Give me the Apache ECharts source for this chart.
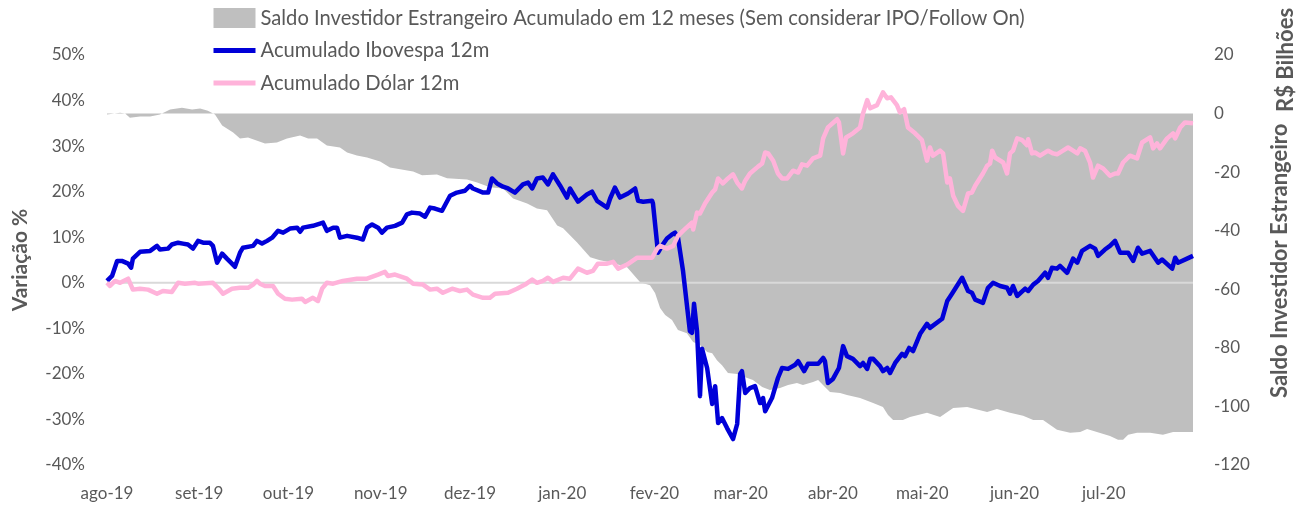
<!DOCTYPE html>
<html>
<head>
<meta charset="utf-8">
<script src="https://cdn.jsdelivr.net/npm/echarts@6/dist/echarts.min.js"></script>
<style>
html,body{margin:0;padding:0;background:#fff;}
#chart{width:1296px;height:506px;}
</style>
</head>
<body>
<div id="chart"></div>
<script>
// ---- data (day offsets counted from the start date) ----
const startDate = [2019, 7, 1]; // 1 Aug 2019
const totalDays = 365;
const monthLabels = ['jan','fev','mar','abr','mai','jun','jul','ago','set','out','nov','dez'];

const seriesNames = [
  'Saldo Investidor Estrangeiro Acumulado em 12 meses (Sem considerar IPO/Follow On)',
  'Acumulado Ibovespa 12m',
  'Acumulado Dólar 12m'
];
const leftTitle = 'Variação %';
const rightTitle = ['Saldo Investidor Estrangeiro', 'R$ Bilhões'];

// Saldo investidor estrangeiro (R$ bilhões)
const saldoDays = [0,4.4,6.1,7.7,11.1,14.5,17.8,21.2,25.2,28.6,31.3,33.9,36.3,38.7,42.4,44.7,47.4,53.1,57.1,60.5,64.9,67.6,70.6,73.9,78.3,80.7,84.0,87.4,91.8,95.1,102.9,105.9,110.9,114.3,121.0,124.4,128.7,133.1,136.5,141.2,144.5,147.9,151.3,153.3,158.0,162.4,165.7,169.1,174.8,179.2,182.5,184.2,185.9,187.6,189.9,191.9,194.9,197.0,199.3,201.7,203.4,205.0,206.7,208.7,211.8,214.5,217.1,220.2,222.8,226.2,228.9,231.9,233.9,237.3,239.0,241.3,243.0,246.4,248.7,253.1,257.5,260.8,262.5,264.2,267.5,269.9,275.6,280.0,284.4,289.1,295.8,299.1,303.5,307.9,311.3,314.6,319.3,323.7,327.1,329.4,332.7,337.1,339.8,341.5,343.2,346.2,350.6,354.9,358.3,361.7,365];
const saldoValues = [-0.3,0.3,0,-1.4,-1.0,-1.0,-0.3,1.4,2.0,1.4,1.7,1.0,-0.3,-4.1,-6.5,-8.5,-8.2,-10.2,-9.9,-8.5,-7.5,-8.5,-8.5,-10.9,-11.6,-13.3,-14.3,-15.0,-16.4,-18.4,-19.8,-21.1,-20.8,-22.1,-22.5,-23.5,-25.2,-25.6,-29.0,-30.7,-32.4,-33.0,-38.2,-39.2,-44.0,-49.1,-50.1,-50.8,-52.5,-57.6,-58.6,-61.3,-66.4,-68.8,-70.5,-73.9,-75.0,-78.0,-79.0,-81.4,-81.8,-84.2,-85.9,-88.6,-88.9,-90.0,-91.0,-93.4,-94.4,-93.7,-92.7,-92.0,-92.7,-91.7,-91.0,-93.4,-95.1,-95.4,-96.1,-97.1,-98.8,-100.2,-102.9,-104.6,-104.6,-103.6,-102.2,-103.6,-100.5,-100.2,-101.9,-100.9,-102.2,-103.2,-104.6,-104.6,-108.0,-109.0,-108.7,-107.7,-108.7,-110.1,-111.4,-111.4,-109.7,-109.0,-109.0,-109.7,-108.7,-108.7,-108.7];

// Acumulado Ibovespa 12m (%)
const ibovDays = [0,1.7,3.4,5.0,7.1,8.1,8.7,11.1,14.5,16.8,17.8,20.5,21.8,23.9,25.5,27.2,28.9,30.6,32.3,34.6,35.6,37.0,38.7,40.3,42.0,43.0,44.7,45.7,49.1,50.4,52.1,53.8,55.5,57.5,59.2,61.5,63.9,64.9,65.9,69.2,71.6,72.6,73.9,76.0,77.3,78.3,80.7,84.0,86.0,87.4,89.1,91.1,92.4,94.1,96.8,99.2,100.8,102.5,105.2,106.9,108.6,110.2,112.6,115.3,117.6,120.3,122.0,123.0,126.4,128.1,129.4,131.1,133.1,134.8,137.1,139.8,141.5,142.9,144.5,146.5,148.2,149.9,152.3,154.6,155.6,156.6,158.3,161.3,163.0,164.7,168.1,169.1,170.7,172.4,175.1,177.5,178.5,180.2,183.2,183.5,185.2,186.5,188.2,189.9,190.9,191.9,193.6,195.9,196.6,197.3,198.3,199.3,200.0,200.3,201.7,203.4,204.4,205.4,206.7,208.4,210.4,211.8,212.8,213.4,214.5,216.1,217.8,219.5,220.5,221.2,223.5,225.5,226.9,228.9,231.3,232.3,234.3,235.6,239.0,240.7,241.3,242.3,244.0,246.0,247.4,248.7,250.7,253.1,254.1,255.5,256.5,257.5,259.8,260.8,262.2,263.2,264.9,267.2,268.2,269.6,270.9,273.3,275.6,276.6,280.7,282.4,284.0,287.4,289.4,290.7,291.8,294.4,296.1,297.8,300.2,302.5,303.5,304.5,305.9,308.6,309.6,311.3,312.9,315.3,316.3,317.6,319.3,320.3,322.7,324.7,326.1,327.7,330.4,332.1,333.1,335.4,337.1,338.8,340.5,343.2,344.9,346.5,347.9,350.6,353.3,354.6,358.0,359.0,360.0,363.0,365];
const ibovValues = [0.4,1.5,4.8,4.8,4.2,3.3,5.3,6.8,7.0,8.1,7.3,7.5,8.4,8.8,8.6,8.4,7.5,9.2,8.8,8.8,8.1,4.4,6.4,5.3,4.2,3.5,6.6,7.7,8.1,9.2,8.6,9.2,9.9,11.4,11.0,11.9,12.1,11.2,12.1,12.5,13.0,13.2,11.4,12.1,12.1,9.9,10.3,9.9,9.5,12.1,12.8,12.1,11.0,12.1,12.5,13.2,15.0,15.4,15.2,14.5,16.5,16.3,15.8,19.1,19.8,20.2,21.3,20.7,19.8,19.8,22.9,21.8,21.1,20.7,19.8,21.6,22.0,20.7,22.9,23.1,21.6,23.8,21.3,18.7,20.7,19.6,17.8,19.4,20.0,18.0,16.5,18.5,20.9,18.7,19.6,20.7,18.0,17.8,18.0,17.4,6.6,8.1,9.7,10.6,11.0,9.9,2.6,-10.6,-11.0,-4.6,-10.6,-24.9,-14.5,-14.3,-18.7,-26.6,-22.7,-30.8,-29.7,-31.9,-34.3,-31.0,-20.0,-19.4,-24.2,-23.1,-22.7,-26.4,-25.3,-28.2,-25.3,-20.9,-18.7,-18.9,-18.0,-17.2,-19.4,-17.8,-17.8,-16.5,-17.2,-22.0,-21.1,-18.7,-13.9,-16.1,-16.7,-18.3,-17.6,-18.9,-16.7,-16.7,-18.3,-19.4,-18.7,-19.8,-17.6,-15.6,-16.1,-14.3,-15.0,-11.2,-9.0,-9.9,-7.9,-4.0,-2.4,1.1,-1.8,-2.2,-3.7,-4.4,-1.1,0.0,-0.7,-1.1,-2.4,-0.7,-2.9,-1.3,-1.8,-0.4,0.4,2.2,1.1,3.3,3.1,3.7,2.2,5.3,4.4,7.0,8.1,7.5,5.9,7.3,8.1,9.2,6.6,6.6,4.8,7.7,6.4,7.0,4.4,5.1,3.1,5.5,4.4,5.3,5.9];

// Acumulado Dólar 12m (%)
const dolarDays = [0,1.0,2.7,4.4,7.1,8.7,11.1,13.8,16.8,18.8,21.8,23.9,26.2,29.6,30.6,35.6,37.3,39.0,42.0,44.7,47.4,49.1,50.4,51.4,53.1,55.8,57.5,59.8,62.2,65.5,66.6,69.2,70.9,72.3,73.9,76.0,79.3,84.0,87.4,91.1,93.4,94.4,96.8,100.8,102.9,106.2,108.6,110.9,112.9,116.0,118.6,121.0,123.0,126.4,128.7,130.4,134.8,137.8,140.5,142.9,144.5,146.5,148.2,149.9,153.3,155.6,158.3,161.3,163.3,165.0,168.1,170.1,171.8,174.8,178.2,183.2,184.9,185.9,188.2,190.3,191.9,193.6,196.6,197.0,198.3,199.3,201.0,203.4,204.4,205.4,207.0,208.7,210.4,211.8,213.4,214.5,216.1,218.8,220.2,221.2,222.2,223.9,225.5,226.9,228.6,230.6,232.3,233.6,235.3,237.3,239.7,240.7,242.3,245.4,246.0,247.4,248.4,250.7,253.1,254.1,255.5,256.5,258.8,260.8,262.2,263.5,265.5,266.5,267.9,269.2,271.6,273.9,275.6,276.6,277.6,280.0,281.0,282.4,283.3,284.4,286.0,287.7,289.4,290.7,291.8,294.4,295.8,296.8,297.5,298.5,301.2,302.5,303.5,304.5,305.9,307.6,309.2,309.6,310.9,311.9,313.6,316.3,318.0,319.3,321.3,323.0,324.7,326.1,327.1,328.7,330.4,331.4,333.1,334.8,337.1,338.8,339.8,341.5,343.8,346.2,347.9,350.6,351.6,352.9,353.9,356.3,358.3,359.0,360.7,362.3,365];
const dolarValues = [0,-0.7,0.4,0,0.9,-1.5,-1.3,-1.5,-2.4,-1.8,-2.0,0,-0.2,0,-0.2,0,-1.1,-2.4,-1.3,-1.1,-1.1,-0.4,0.4,-0.2,-0.7,-0.7,-2.4,-3.5,-3.7,-3.5,-4.2,-3.3,-4.0,-1.3,0,-0.2,0.4,0.9,0.9,1.8,2.4,1.5,1.8,0.9,-0.2,-0.4,-1.5,-1.3,-2.2,-1.3,-1.8,-1.5,-2.6,-3.3,-3.3,-2.4,-2.2,-1.3,-0.4,0.7,0,0.4,1.1,0.2,1.1,0.9,3.1,2.2,2.6,4.2,4.2,4.6,3.1,4.0,5.5,5.5,7.5,8.1,7.5,8.1,10.3,11.4,13.2,11.7,15.4,15.2,17.4,19.8,20.5,22.9,21.8,22.9,23.8,22.0,20.7,22.4,24.0,25.5,26.2,28.6,28.4,26.8,24.0,22.9,22.9,24.6,24.2,26.0,25.7,27.3,27.9,31.7,34.1,35.9,35.2,28.4,31.9,32.8,34.1,37.2,40.1,38.3,39.0,41.8,40.5,40.7,39.0,37.4,38.1,34.1,32.8,31.3,26.8,29.7,27.9,29.0,28.4,22.0,22.9,19.1,16.9,15.8,19.6,19.8,21.3,24.0,25.7,26.2,29.0,27.5,26.4,24.0,28.4,29.0,31.7,31.3,30.2,31.5,28.4,28.6,27.9,29.0,28.4,28.2,29.0,29.7,29.0,28.4,29.5,29.0,26.4,23.1,25.7,25.1,23.5,24.0,24.0,26.4,27.9,27.3,30.8,31.9,29.5,30.6,29.5,31.7,32.8,31.7,34.1,35.2,35.0];

const leftTicks = {min: -40, max: 50, step: 10};
const rightTicks = {min: -120, max: 20, step: 20};

// ---- build ----
const DAY = 86400000;
const base = new Date(startDate[0], startDate[1], startDate[2]).getTime();
const toTime = d => base + d * DAY;
const pair = (days, vals) => days.map((d, i) => [toTime(d), vals[i]]);

const FONT = 'Lato';
const GREY_TXT = '#595959';
const BLUE = '#0000d8';
const PINK = '#ffb3da';

const chart = echarts.init(document.getElementById('chart'), null, {renderer: 'canvas'});
chart.setOption({
  animation: false,
  backgroundColor: '#ffffff',
  textStyle: {fontFamily: FONT},
  grid: {left: 107, right: 103, top: 55, bottom: 41, containLabel: false},
  legend: {
    orient: 'vertical', left: 211, top: 8, itemWidth: 42, itemHeight: 20, itemGap: 12.5,
    padding: 0, selectedMode: false,
    textStyle: {fontFamily: FONT, fontSize: 20.2, color: GREY_TXT},
    data: [
      {name: seriesNames[0], icon: 'rect'},
      {name: seriesNames[1], itemStyle: {opacity: 0}, lineStyle: {width: 5, color: BLUE}},
      {name: seriesNames[2], itemStyle: {opacity: 0}, lineStyle: {width: 5, color: PINK}}
    ]
  },
  xAxis: {
    type: 'time', min: toTime(0), max: toTime(totalDays), splitNumber: 12,
    minInterval: 28 * DAY, maxInterval: 31 * DAY,
    axisLine: {show: false}, axisTick: {show: false}, splitLine: {show: false},
    axisLabel: {
      fontFamily: FONT, fontSize: 17, color: GREY_TXT, margin: 20, hideOverlap: false,
      formatter: v => { const d = new Date(v); return monthLabels[d.getMonth()] + '-' + String(d.getFullYear()).slice(2); }
    }
  },
  yAxis: [
    {
      type: 'value', min: leftTicks.min, max: leftTicks.max, interval: leftTicks.step,
      axisLine: {show: false}, axisTick: {show: false}, splitLine: {show: false},
      axisLabel: {fontFamily: FONT, fontSize: 17, color: GREY_TXT, margin: 22, formatter: '{value}%'},
      name: leftTitle, nameLocation: 'middle', nameGap: 76, nameRotate: 90,
      nameTextStyle: {fontFamily: FONT, fontSize: 21, fontWeight: 'bold', color: GREY_TXT}
    },
    {
      type: 'value', position: 'right', min: rightTicks.min, max: rightTicks.max, interval: rightTicks.step,
      axisLine: {show: false}, axisTick: {show: false}, splitLine: {show: false},
      axisLabel: {fontFamily: FONT, fontSize: 17, color: GREY_TXT, margin: 21}
    }
  ],
  graphic: [
    {
      type: 'text', x: 1280, y: 398, rotation: Math.PI / 2, silent: true,
      style: {text: rightTitle[0], font: 'bold 22px ' + FONT, fill: GREY_TXT, align: 'left', verticalAlign: 'middle'}
    },
    {
      type: 'text', x: 1286, y: 112, rotation: Math.PI / 2, silent: true,
      style: {text: rightTitle[1], font: 'bold 22px ' + FONT, fill: GREY_TXT, align: 'left', verticalAlign: 'middle'}
    }
  ],
  series: [
    {
      name: seriesNames[0], type: 'line', yAxisIndex: 1, z: 1, symbol: 'none', silent: true,
      data: pair(saldoDays, saldoValues), color: '#bfbfbf',
      lineStyle: {width: 0}, areaStyle: {color: '#bfbfbf', opacity: 1}
    },
    {
      name: 'zero', type: 'line', yAxisIndex: 0, z: 2, symbol: 'none', silent: true,
      data: [[toTime(0), 0], [toTime(totalDays), 0]],
      lineStyle: {color: '#d9d9d9', width: 2}
    },
    {
      name: seriesNames[1], type: 'line', yAxisIndex: 0, z: 3, symbol: 'none',
      data: pair(ibovDays, ibovValues), color: BLUE,
      lineStyle: {width: 4.5, color: BLUE, join: 'round'}
    },
    {
      name: seriesNames[2], type: 'line', yAxisIndex: 0, z: 4, symbol: 'none',
      data: pair(dolarDays, dolarValues), color: PINK,
      lineStyle: {width: 4.5, color: PINK, join: 'round'}
    }
  ]
});
</script>
</body>
</html>
